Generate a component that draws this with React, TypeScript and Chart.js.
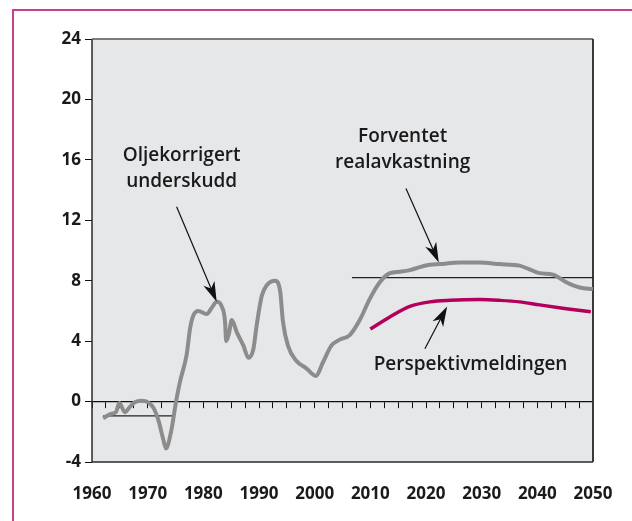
import { useEffect, useRef } from 'react';
import { Chart, registerables } from 'chart.js';
Chart.register(...registerables);

// Oljekorrigert underskudd / forventet realavkastning (grey line)
const greyYears = [1962.0, 1963.5, 1964.3, 1964.9, 1965.9, 1966.8, 1967.7, 1968.9, 1970.1, 1971.1, 1971.9, 1972.8, 1973.3, 1974.2, 1975.1, 1975.8, 1977.0, 1977.6, 1978.2, 1979.1, 1980.6, 1981.5, 1982.4, 1983.3, 1983.9, 1984.1, 1984.6, 1985.1, 1986.0, 1987.2, 1988.1, 1989.0, 1989.6, 1990.5, 1991.4, 1992.9, 1993.8, 1994.3, 1995.2, 1996.7, 1998.5, 2000.2, 2001.5, 2003.0, 2004.5, 2006.3, 2008.1, 2009.9, 2011.7, 2013.5, 2015.3, 2017.1, 2018.9, 2020.7, 2022.5, 2026.1, 2029.7, 2033.2, 2036.8, 2038.6, 2040.4, 2042.8, 2045.2, 2047.6, 2050.0];
const greyValues = [-1.1, -0.8, -0.7, -0.1, -0.7, -0.35, -0.05, 0.05, -0.05, -0.45, -1.2, -2.5, -3.1, -2.0, 0.0, 1.3, 3.1, 4.8, 5.7, 6.0, 5.8, 6.2, 6.6, 6.3, 5.3, 4.0, 4.5, 5.4, 4.6, 3.7, 2.9, 3.5, 5.1, 7.0, 7.7, 8.0, 7.3, 5.3, 3.7, 2.7, 2.2, 1.7, 2.6, 3.7, 4.1, 4.4, 5.4, 6.8, 7.9, 8.5, 8.6, 8.7, 8.9, 9.05, 9.1, 9.2, 9.2, 9.1, 9.0, 8.75, 8.5, 8.4, 7.9, 7.55, 7.45];

// Perspektivmeldingen (magenta line)
const pinkYears = [2010.0, 2013.5, 2017.1, 2020.7, 2024.3, 2029.7, 2033.2, 2036.8, 2040.4, 2045.2, 2049.6];
const pinkValues = [4.8, 5.6, 6.3, 6.6, 6.7, 6.75, 6.7, 6.6, 6.4, 6.15, 5.95];

// horizontal average lines
const avgEarlyYears = [1962.0, 1974.5];
const avgEarlyValues = [-0.95, -0.95];
const avgLateYears = [2006.7, 2050.0];
const avgLateValues = [8.2, 8.2];

// axis ticks
const xTickYears = [1960, 1970, 1980, 1990, 2000, 2010, 2020, 2030, 2040, 2050];
const yTickValues = [-4, 0, 4, 8, 12, 16, 20, 24];

// annotations (data units)
const labelTexts = ['Oljekorrigert', 'underskudd', 'Forventet', 'realavkastning', 'Perspektivmeldingen'];
const labelX = [1976.1, 1976.1, 2015.8, 2015.8, 2028.0];
const labelY = [16.3, 14.55, 17.55, 15.8, 2.45];
const arrowFrom = [[1975.2, 12.9], [2016.4, 14.1], [2019.8, 3.5]];
const arrowTo = [[1982.4, 6.6], [2022.3, 9.2], [2023.8, 6.3]];

const FONT = '"Open Sans", "DejaVu Sans", sans-serif';

const pts = (xs: number[], ys: number[]) => xs.map((x, i) => ({ x, y: ys[i] }));

const framePlugin = {
  id: 'frame',
  beforeDraw(chart: any) {
    const { ctx, chartArea: a } = chart;
    ctx.save();
    ctx.fillStyle = '#e6e7e9';
    ctx.fillRect(a.left, a.top, a.right - a.left, a.bottom - a.top);
    ctx.restore();
  },
  beforeDatasetsDraw(chart: any) {
    const { ctx, chartArea: a } = chart;
    ctx.save();
    ctx.strokeStyle = '#2a2a2a';
    ctx.lineWidth = 1.5;
    ctx.beginPath();
    ctx.moveTo(a.left, a.top);
    ctx.lineTo(a.left, a.bottom);
    ctx.lineTo(a.right, a.bottom);
    ctx.stroke();
    ctx.strokeStyle = '#555';
    ctx.beginPath();
    ctx.moveTo(a.left, a.top);
    ctx.lineTo(a.right, a.top);
    ctx.stroke();
    ctx.lineWidth = 2;
    ctx.strokeStyle = '#3a3a3a';
    ctx.beginPath();
    ctx.moveTo(a.right, a.top);
    ctx.lineTo(a.right, a.bottom);
    ctx.stroke();
    ctx.restore();
  },
};

const annotationPlugin = {
  id: 'annot',
  afterDatasetsDraw(chart: any) {
    const { ctx } = chart;
    const xs = chart.scales.x;
    const ys = chart.scales.y;
    ctx.save();
    ctx.fillStyle = '#1a1a1a';
    ctx.font = `600 19px ${FONT}`;
    ctx.textAlign = 'center';
    ctx.textBaseline = 'middle';
    labelTexts.forEach((t, i) => {
      ctx.fillText(t, xs.getPixelForValue(labelX[i]), ys.getPixelForValue(labelY[i]));
    });
    ctx.strokeStyle = '#111';
    ctx.fillStyle = '#111';
    ctx.lineWidth = 1.2;
    arrowFrom.forEach((f, i) => {
      const x1 = xs.getPixelForValue(f[0]);
      const y1 = ys.getPixelForValue(f[1]);
      const x2 = xs.getPixelForValue(arrowTo[i][0]);
      const y2 = ys.getPixelForValue(arrowTo[i][1]);
      const ang = Math.atan2(y2 - y1, x2 - x1);
      const len = 20;
      const hw = 6;
      const c = Math.cos(ang), s = Math.sin(ang);
      const bx = x2 - len * c, by = y2 - len * s;
      ctx.beginPath();
      ctx.moveTo(x1, y1);
      ctx.lineTo(x2 - len * 0.7 * c, y2 - len * 0.7 * s);
      ctx.stroke();
      ctx.beginPath();
      ctx.moveTo(x2, y2);
      ctx.lineTo(bx - hw * s, by + hw * c);
      ctx.lineTo(x2 - len * 0.72 * c, y2 - len * 0.72 * s);
      ctx.lineTo(bx + hw * s, by - hw * c);
      ctx.closePath();
      ctx.fill();
    });
    ctx.restore();
  },
};

export default function App() {
  const ref = useRef<HTMLCanvasElement>(null);
  useEffect(() => {
    const chart = new Chart(ref.current!, {
      type: 'line',
      data: {
        datasets: [
          {
            data: pts(greyYears, greyValues),
            borderColor: '#8c8c8c',
            borderWidth: 4,
            pointRadius: 0,
            cubicInterpolationMode: 'monotone',
          },
          {
            data: pts(pinkYears, pinkValues),
            borderColor: '#b3005c',
            borderWidth: 3.5,
            pointRadius: 0,
            cubicInterpolationMode: 'monotone',
          },
          {
            data: pts(avgEarlyYears, avgEarlyValues),
            borderColor: '#222',
            borderWidth: 1.2,
            pointRadius: 0,
          },
          {
            data: pts(avgLateYears, avgLateValues),
            borderColor: '#222',
            borderWidth: 1.2,
            pointRadius: 0,
          },
        ],
      },
      options: {
        responsive: false,
        animation: false,
        layout: { padding: { left: 0, top: 39, right: 39, bottom: 0 } },
        plugins: { legend: { display: false }, tooltip: { enabled: false } },
        scales: {
          x: {
            type: 'linear',
            position: 'bottom',
            min: 1960,
            max: 2050,
            afterFit: (s: any) => {
              s.height = 59;
            },
            afterBuildTicks: (s: any) => {
              s.ticks = xTickYears.map((v) => ({ value: v }));
            },
            ticks: {
              callback: (v: any) => String(v),
              font: { family: FONT, size: 17, weight: '700' },
              color: '#1a1a1a',
              padding: 14,
              maxRotation: 0,
              autoSkip: false,
            },
            grid: { display: false },
            border: { display: false },
          },
          x2: {
            type: 'linear',
            axis: 'x',
            position: { y: 0 },
            min: 1960,
            max: 2050,
            ticks: { stepSize: 2.5, display: false },
            grid: { drawOnChartArea: false, drawTicks: true, tickLength: 6, color: '#111', lineWidth: 1 },
            border: { display: true, color: '#111', width: 1.2 },
          },
          y: {
            type: 'linear',
            min: -4,
            max: 24,
            afterFit: (s: any) => {
              s.width = 92;
            },
            afterBuildTicks: (s: any) => {
              s.ticks = yTickValues.map((v) => ({ value: v }));
            },
            ticks: {
              callback: (v: any) => String(v),
              font: { family: FONT, size: 17, weight: '700' },
              color: '#1a1a1a',
              padding: 4,
            },
            grid: { drawOnChartArea: false, drawTicks: true, tickLength: 7, color: '#111', lineWidth: 1 },
            border: { display: false },
          },
        },
      } as any,
      plugins: [framePlugin, annotationPlugin],
    });
    return () => chart.destroy();
  }, []);
  return (
    <div style={{ position: 'fixed', left: 0, top: 0, width: 632, height: 521, overflow: 'hidden', background: '#fff' }}>
      <div
        style={{
          position: 'absolute',
          left: 12,
          top: 9,
          width: 700,
          height: 600,
          borderTop: '2px solid #c8408a',
          borderLeft: '2px solid #c8408a',
        }}
      />
      <canvas ref={ref} width={632} height={521} style={{ position: 'absolute', left: 0, top: 0 }} />
    </div>
  );
}
